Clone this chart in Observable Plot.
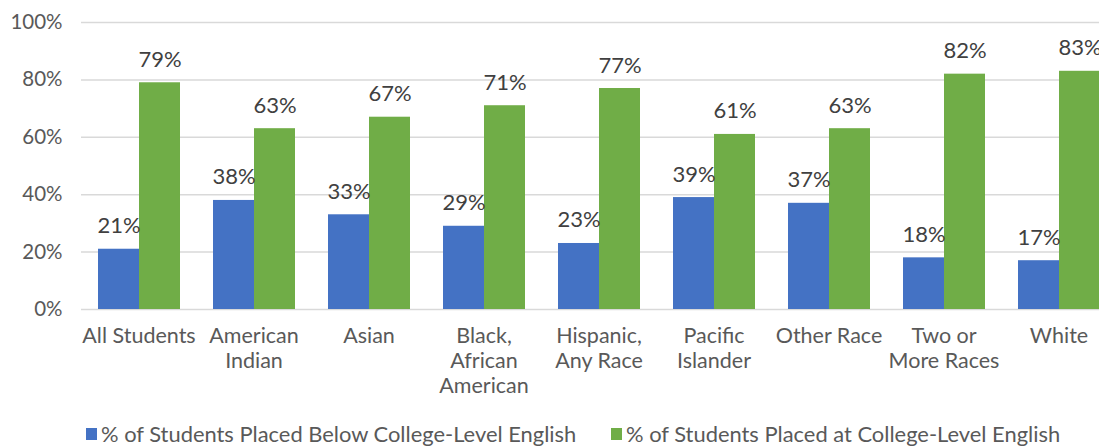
<!DOCTYPE html>
<html>
<head>
<meta charset="utf-8">
<script src="https://cdn.jsdelivr.net/npm/d3@7"></script>
<script src="https://cdn.jsdelivr.net/npm/@observablehq/plot@0.6"></script>
<style>
  html, body { margin: 0; padding: 0; background: #fff; overflow: hidden; }
  #wrap { position: relative; width: 1099px; height: 447px; overflow: hidden; font-family: Lato, "Open Sans", sans-serif; }
  #wrap svg { max-width: none !important; }
  .leg { position: absolute; top: 421px; height: 26px; line-height: 26px; font-size: 21.9px; color: #595959; white-space: nowrap; display: flex; align-items: center; }
  .sw { display: inline-block; width: 11px; height: 12px; margin-right: 4px; }
</style>
</head>
<body>
<div id="wrap"></div>
<script>
const categories = ["All Students", "American Indian", "Asian", "Black, African American", "Hispanic, Any Race", "Pacific Islander", "Other Race", "Two or More Races", "White"];
const categoryLabels = ["All Students", "American\nIndian", "Asian", "Black,\nAfrican\nAmerican", "Hispanic,\nAny Race", "Pacific\nIslander", "Other Race", "Two or\nMore Races", "White"];
const seriesNames = ["% of Students Placed Below College-Level English", "% of Students Placed at College-Level English"];
const belowValues = [21, 38, 33, 29, 23, 39, 37, 18, 17];
const atValues = [79, 63, 67, 71, 77, 61, 63, 82, 83];
const colors = ["#4472C4", "#70AD47"];
const yTicks = [0, 20, 40, 60, 80, 100];

const data = [];
categories.forEach((c, i) => {
  data.push({category: c, series: seriesNames[0], value: belowValues[i]});
  data.push({category: c, series: seriesNames[1], value: atValues[i]});
});
const labelOf = new Map(categories.map((c, i) => [c, categoryLabels[i]]));

const chart = Plot.plot({
  width: 1116,
  height: 447,
  marginLeft: 81,
  marginRight: 0,
  marginTop: 22,
  marginBottom: 138,
  style: {fontFamily: "Lato, 'Open Sans', sans-serif", background: "#fff", maxWidth: "none"},
  fx: {domain: categories, padding: 0},
  x: {domain: seriesNames, paddingInner: 0, paddingOuter: 0.385, axis: null},
  y: {domain: [0, 100]},
  color: {domain: seriesNames, range: colors},
  marks: [
    Plot.gridY(yTicks, {stroke: "#d9d9d9", strokeOpacity: 1, strokeWidth: 1.5}),
    Plot.axisY(yTicks, {tickSize: 0, tickPadding: 19, tickFormat: d => d + "%", fontSize: 20.5, fill: "#595959", label: null}),
    Plot.axisFx({anchor: "bottom", tickSize: 0, tickPadding: 16, fontSize: 21.5, fill: "#595959", lineHeight: 1.16, label: null, tickFormat: d => labelOf.get(d)}),
    Plot.barY(data, {fx: "category", x: "series", y: "value", fill: "series"}),
    Plot.text(data, {fx: "category", x: "series", y: "value", text: d => d.value + "%", lineAnchor: "bottom", dy: -16, fontSize: 22, fill: "#404040"})
  ]
});
chart.style.maxWidth = "none";
const wrap = document.getElementById("wrap");
wrap.appendChild(chart);

const legendPos = [86, 611];
seriesNames.forEach((s, i) => {
  const d = document.createElement("div");
  d.className = "leg";
  d.style.left = legendPos[i] + "px";
  const sw = document.createElement("span");
  sw.className = "sw";
  sw.style.background = colors[i];
  d.appendChild(sw);
  const t = document.createElement("span");
  t.textContent = s;
  d.appendChild(t);
  wrap.appendChild(d);
});
</script>
</body>
</html>
